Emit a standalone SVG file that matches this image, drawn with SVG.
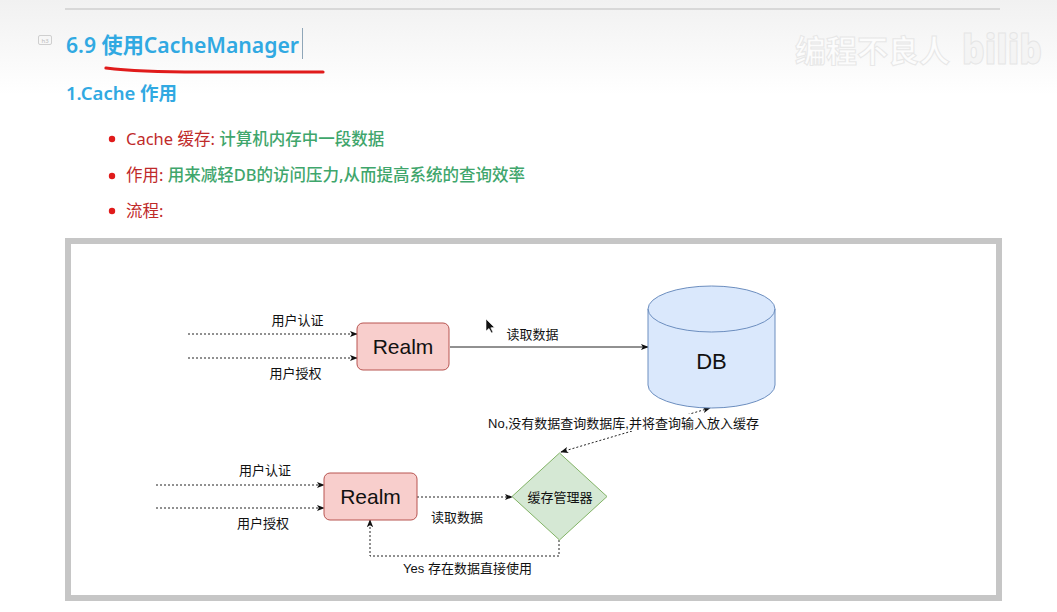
<svg xmlns="http://www.w3.org/2000/svg" width="1057" height="612" viewBox="0 0 1057 612">
<defs>
<linearGradient id="topbg" x1="0" y1="0" x2="0" y2="1">
<stop offset="0" stop-color="#f1f1f1"/>
<stop offset="1" stop-color="#ffffff"/>
</linearGradient>
<marker id="arr" viewBox="0 0 10 10" refX="9" refY="5" markerWidth="8" markerHeight="8" markerUnits="userSpaceOnUse" orient="auto-start-reverse">
<path d="M0,1 L10,5 L0,9 L2.5,5 z" fill="#111"/>
</marker>
<style>
.doc{font-family:"Noto Sans","Noto Sans CJK SC",sans-serif}
.h{fill:#31a9e2;font-weight:600}
.red{fill:#bf2a2a;font-weight:400}
.grn{fill:#3fa66c;font-weight:500}
.lbl{font-family:"Liberation Sans","Noto Sans CJK SC",sans-serif;font-size:13px;fill:#111;text-anchor:middle}
.big{font-family:"Liberation Sans","Noto Sans CJK SC",sans-serif;font-size:21px;fill:#111;text-anchor:middle}
.dot{fill:none;stroke:#222;stroke-width:1;stroke-dasharray:2 2}
.sol{fill:none;stroke:#222;stroke-width:1}
.realm{fill:#f8cecc;stroke:#b85450;stroke-width:1}
</style>
</defs>
<rect width="1057" height="612" fill="#ffffff"/>
<rect width="1057" height="95" fill="url(#topbg)"/>
<line x1="65" y1="9" x2="1000" y2="9" stroke="#cfcfcf" stroke-width="1.5"/>
<g id="watermark" opacity="0.9">
<text x="795" y="62" font-family="Noto Sans CJK SC, sans-serif" font-size="31" font-weight="700" fill="#fdfdfd" stroke="#e6e6e6" stroke-width="1">编程不良人</text>
<text x="962" y="64" font-family="Noto Sans, sans-serif" font-size="40" font-weight="900" fill="#f4f4f4" stroke="#e4e4e4" stroke-width="1" textLength="80" lengthAdjust="spacingAndGlyphs">bilib</text>
</g>
<g id="header" class="doc">
<rect x="38.5" y="35.5" width="13" height="9" rx="1.5" fill="none" stroke="#cfcfcf"/>
<text x="45" y="42.5" font-size="6" fill="#bbb" text-anchor="middle">h3</text>
<text x="66" y="53" font-size="22" class="h" textLength="233" lengthAdjust="spacingAndGlyphs">6.9 使用CacheManager</text>
<line x1="302.5" y1="28" x2="302.5" y2="59" stroke="#8fa6b8" stroke-width="1"/>
<path d="M106,68 C130,71 150,72 200,72 L323,72" fill="none" stroke="#e01b1b" stroke-width="3.2" stroke-linecap="round"/>
<text x="66" y="100" font-size="18.5" class="h">1.Cache 作用</text>
<circle cx="112" cy="139" r="3.2" fill="#e01b1b"/>
<circle cx="112" cy="176" r="3.2" fill="#e01b1b"/>
<circle cx="112" cy="211" r="3.2" fill="#e01b1b"/>
<g font-size="16.5">
<text x="126" y="145"><tspan class="red">Cache 缓存: </tspan><tspan class="grn">计算机内存中一段数据</tspan></text>
<text x="126" y="181"><tspan class="red">作用: </tspan><tspan class="grn">用来减轻DB的访问压力,从而提高系统的查询效率</tspan></text>
<text x="126" y="217"><tspan class="red">流程:</tspan></text>
</g>
</g>
<rect id="frame" x="68" y="241" width="931" height="357" fill="#ffffff" stroke="#c6c6c6" stroke-width="6"/>
<g id="connectors">
<line class="dot" x1="188" y1="334" x2="357" y2="334" marker-end="url(#arr)"/>
<line class="dot" x1="188" y1="358" x2="357" y2="358" marker-end="url(#arr)"/>
<line class="sol" x1="450" y1="347" x2="648" y2="347" marker-end="url(#arr)"/>
<line class="dot" x1="156" y1="485" x2="324" y2="485" marker-end="url(#arr)"/>
<line class="dot" x1="156" y1="508" x2="324" y2="508" marker-end="url(#arr)"/>
<line class="dot" x1="417" y1="497" x2="512" y2="497" marker-end="url(#arr)"/>
<line class="dot" x1="561" y1="452" x2="710" y2="408" marker-start="url(#arr)" marker-end="url(#arr)"/>
<polyline class="dot" points="559,540 559,556 370,556 370,520" marker-end="url(#arr)"/>
<text class="lbl" x="297.5" y="325">用户认证</text>
<text class="lbl" x="295.5" y="378">用户授权</text>
<text class="lbl" x="532.5" y="339">读取数据</text>
<rect x="486" y="414" width="276" height="17" fill="#ffffff"/>
<text class="lbl" x="623.5" y="428">No,没有数据查询数据库,并将查询输入放入缓存</text>
<text class="lbl" x="265" y="475">用户认证</text>
<text class="lbl" x="263" y="528">用户授权</text>
<text class="lbl" x="457" y="522">读取数据</text>
<text class="lbl" x="467.5" y="573">Yes 存在数据直接使用</text>
</g>
<g id="realm-top">
<rect class="realm" x="357" y="323" width="92" height="47" rx="6"/>
<text class="big" x="403" y="354">Realm</text>
</g>
<g id="db">
<path d="M648,309 A63.5,23 0 0 1 775,309 V385 A63.5,23 0 0 1 648,385 Z" fill="#dae8fc" stroke="#6c8ebf" stroke-width="1"/>
<path d="M648,309 A63.5,23 0 0 0 775,309" fill="none" stroke="#6c8ebf" stroke-width="1"/>
<text x="711.5" y="369" font-family="Liberation Sans, sans-serif" font-size="22" fill="#111" text-anchor="middle">DB</text>
</g>
<g id="realm-bottom">
<rect class="realm" x="324" y="473" width="93" height="47" rx="6"/>
<text class="big" x="370.5" y="504">Realm</text>
</g>
<g id="cache-manager">
<polygon points="559.5,453 607,496.5 559.5,540 512,496.5" fill="#d5e8d4" stroke="#82b366" stroke-width="1"/>
<text class="lbl" x="560" y="502">缓存管理器</text>
</g>
<path id="cursor" d="M486,319 L486,331 L489,328.5 L491.5,333 L493,332.3 L490.8,327.8 L494.5,327.5 Z" fill="#111" stroke="#fff" stroke-width="0.6"/>
</svg>
